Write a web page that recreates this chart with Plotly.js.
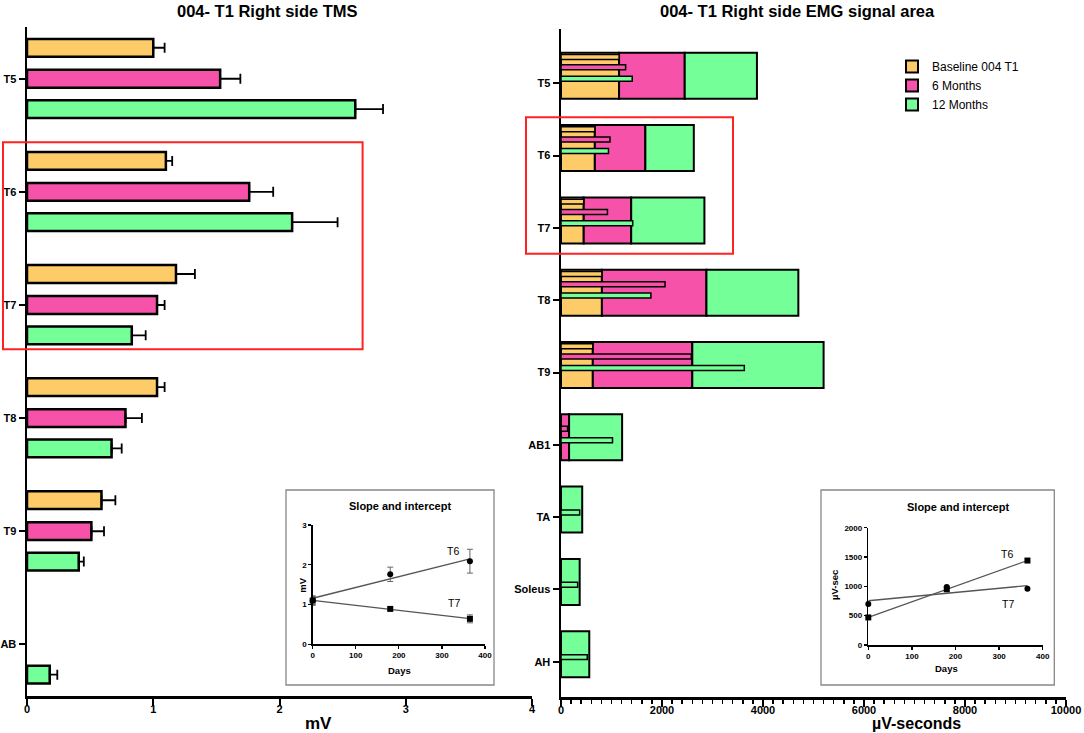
<!DOCTYPE html>
<html>
<head>
<meta charset="utf-8">
<script src="https://cdn.plot.ly/plotly-3.0.1.min.js"></script>
<style>
  html, body { margin: 0; padding: 0; background: #fff; }
  #chart { width: 1084px; height: 733px; }
</style>
</head>
<body>
<div id="chart"></div>
<script>
// ---- left panel: TMS amplitude (mV) ----
var tmsLevels = ['T5', 'T6', 'T7', 'T8', 'T9', 'AB'];
var tmsBaseline = [1.00, 1.10, 1.18, 1.03, 0.59, null];
var tms6m = [1.53, 1.76, 1.03, 0.78, 0.51, null];
var tms12m = [2.60, 2.10, 0.83, 0.67, 0.41, 0.18];
var tmsBaselineErr = [0.09, 0.05, 0.15, 0.06, 0.11, null];
var tms6mErr = [0.16, 0.19, 0.06, 0.13, 0.10, null];
var tms12mErr = [0.22, 0.36, 0.11, 0.08, 0.04, 0.06];

// ---- right panel: EMG signal area (µV-seconds), stacked ----
var emgLevels = ['T5', 'T6', 'T7', 'T8', 'T9', 'AB1', 'TA', 'Soleus', 'AH'];
var emgBaseline = [1150, 670, 450, 810, 630, 0, 0, 0, 0];
var emg6m = [1300, 1000, 940, 2070, 1970, 160, 0, 0, 0];
var emg12m = [1430, 960, 1450, 1820, 2600, 1050, 420, 370, 560];
// thin unstacked bars drawn over the stacks
var emg6mThin = [1280, 970, 920, 2060, 2580, 130, 0, 0, 0];
var emg12mThin = [1410, 940, 1420, 1780, 3630, 1020, 370, 330, 520];

// ---- insets: slope and intercept ----
var days = [0, 180, 365];
var tmsT6 = [1.10, 1.76, 2.09];
var tmsT6Err = [0.10, 0.18, 0.30];
var tmsT7 = [1.10, 0.89, 0.64];
var tmsT7Err = [0.12, 0.03, 0.10];
var emgT6 = [470, 950, 1440];
var emgT7 = [700, 990, 960];

var colBase = '#FDCB67', col6 = '#F652A9', col12 = '#74FF99';
var W = 1084, H = 733;
function px(x) { return x / W; }
function py(y) { return 1 - y / H; }

function fit(xs, ys) {
  var n = xs.length, mx = 0, my = 0, sxy = 0, sxx = 0;
  for (var i = 0; i < n; i++) { mx += xs[i] / n; my += ys[i] / n; }
  for (var i = 0; i < n; i++) {
    sxy += (xs[i] - mx) * (ys[i] - my);
    sxx += (xs[i] - mx) * (xs[i] - mx);
  }
  var m = sxy / sxx;
  return function (x) { return my + m * (x - mx); };
}

function tmsTrace(name, vals, errs, color, offset) {
  return {
    type: 'bar', orientation: 'h', name: name, showlegend: false,
    x: vals, y: tmsLevels, xaxis: 'x', yaxis: 'y',
    width: 0.157, offset: offset,
    marker: { color: color, line: { color: '#000', width: 2.5 } },
    error_x: { type: 'data', symmetric: false, array: errs,
      arrayminus: errs.map(function () { return 0; }),
      color: '#000', thickness: 1.8, width: 5 }
  };
}

function emgTrace(name, vals, base, color, legend) {
  return {
    type: 'bar', orientation: 'h', name: name, showlegend: legend, legendgroup: name,
    x: vals, y: emgLevels, base: base, xaxis: 'x2', yaxis: 'y2',
    width: 0.636, offset: -0.422,
    marker: { color: color, line: { color: '#000', width: 2 } }
  };
}

function thinTrace(vals, color, offset) {
  return {
    type: 'bar', orientation: 'h', showlegend: false,
    x: vals, y: emgLevels, base: 0, xaxis: 'x2', yaxis: 'y2',
    width: 0.069, offset: offset,
    marker: { color: color, line: { color: '#000', width: 1.5 } }
  };
}

var base12 = emgBaseline.map(function (v, i) { return v + emg6m[i]; });

var fT6 = fit(days, tmsT6), fT7 = fit(days, tmsT7);
var gT6 = fit(days, emgT6), gT7 = fit(days, emgT7);
var lineX = [days[0], days[days.length - 1]];

function fitLine(f, xa, ya) {
  return { type: 'scatter', mode: 'lines', showlegend: false, x: lineX,
    y: lineX.map(f), xaxis: xa, yaxis: ya, line: { color: '#555', width: 1.3 } };
}
function pts(ys, errs, symbol, xa, ya) {
  var t = { type: 'scatter', mode: 'markers', showlegend: false, x: days, y: ys,
    xaxis: xa, yaxis: ya, cliponaxis: false,
    marker: { color: '#000', size: 6, symbol: symbol } };
  if (errs) t.error_y = { type: 'data', array: errs, color: '#666', thickness: 1, width: 3 };
  return t;
}

var data = [
  tmsTrace('Baseline 004 T1', tmsBaseline, tmsBaselineErr, colBase, -0.352),
  tmsTrace('6 Months', tms6m, tms6mErr, col6, -0.078),
  tmsTrace('12 Months', tms12m, tms12mErr, col12, 0.19),
  emgTrace('Baseline 004 T1', emgBaseline, 0, colBase, true),
  emgTrace('6 Months', emg6m, emgBaseline, col6, true),
  emgTrace('12 Months', emg12m, base12, col12, true),
  thinTrace(emgBaseline, colBase, -0.398),
  thinTrace(emg6mThin, col6, -0.256),
  thinTrace(emg12mThin, col12, -0.098),
  fitLine(fT6, 'x3', 'y3'), fitLine(fT7, 'x3', 'y3'),
  pts(tmsT6, tmsT6Err, 'circle', 'x3', 'y3'),
  pts(tmsT7, tmsT7Err, 'square', 'x3', 'y3'),
  fitLine(gT6, 'x4', 'y4'), fitLine(gT7, 'x4', 'y4'),
  pts(emgT6, null, 'square', 'x4', 'y4'),
  pts(emgT7, null, 'circle', 'x4', 'y4')
];

var mainAxis = {
  showline: true, linewidth: 2.5, linecolor: '#000', mirror: false,
  ticks: 'outside', ticklen: 7, tickwidth: 2, tickcolor: '#000',
  showgrid: false, zeroline: false, fixedrange: true,
  tickfont: { size: 11, weight: 700, color: '#000' }
};
var catAxis = Object.assign({}, mainAxis, { ticklen: 6, type: 'category', categoryorder: 'array' });
var insetAxis = {
  showline: true, linewidth: 1.5, linecolor: '#000',
  ticks: 'outside', ticklen: 3, tickwidth: 1.2, tickcolor: '#000',
  showgrid: false, zeroline: false, fixedrange: true,
  tickfont: { size: 8, weight: 700, color: '#000' }
};

function ann(text, x, y, size, bold, extra) {
  var a = { text: text, xref: 'paper', yref: 'paper', x: px(x), y: py(y),
    xanchor: 'center', yanchor: 'middle', showarrow: false,
    font: { size: size, weight: bold ? 700 : 400, color: '#000' } };
  return Object.assign(a, extra || {});
}
function box(x0, y0, x1, y1, color, w) {
  return { type: 'rect', xref: 'paper', yref: 'paper',
    x0: px(x0), x1: px(x1), y0: py(y1), y1: py(y0),
    line: { color: color, width: w }, fillcolor: 'rgba(0,0,0,0)' };
}

var layout = {
  width: W, height: H,
  margin: { l: 0, r: 0, t: 0, b: 0 },
  paper_bgcolor: '#fff', plot_bgcolor: 'rgba(0,0,0,0)',
  font: { family: 'Liberation Sans, Arial, sans-serif', color: '#000' },
  barmode: 'overlay',
  legend: { x: px(892), y: py(52), xanchor: 'left', yanchor: 'top',
    traceorder: 'normal', tracegroupgap: 2, bgcolor: 'rgba(0,0,0,0)',
    font: { size: 12, color: '#000' } },
  xaxis: Object.assign({}, mainAxis, { domain: [px(27), px(532)], range: [0, 4], dtick: 1, anchor: 'y',
    ticklabelstandoff: -6 }),
  yaxis: Object.assign({}, catAxis, { domain: [py(696), py(27)], categoryarray: tmsLevels,
    range: [5.457, -0.457], anchor: 'x' }),
  xaxis2: Object.assign({}, mainAxis, { domain: [px(561), px(1066)], range: [0, 10000], dtick: 2000,
    tickformat: 'd', anchor: 'y2', ticklabelstandoff: -6,
    minor: { dtick: 200, ticks: 'outside', ticklen: 4, tickwidth: 1.5, tickcolor: '#000' } }),
  yaxis2: Object.assign({}, catAxis, { domain: [py(697), py(29)], categoryarray: emgLevels,
    range: [8.488, -0.751], anchor: 'x2' }),
  xaxis3: Object.assign({}, insetAxis, { domain: [px(312.7), px(485)], range: [0, 400], dtick: 100, anchor: 'y3' }),
  yaxis3: Object.assign({}, insetAxis, { domain: [py(644.3), py(525)], range: [0, 3], dtick: 1, anchor: 'x3' }),
  xaxis4: Object.assign({}, insetAxis, { domain: [px(868.3), px(1042.7)], range: [0, 400], dtick: 100, anchor: 'y4' }),
  yaxis4: Object.assign({}, insetAxis, { domain: [py(645), py(527.7)], range: [0, 2000], dtick: 500, anchor: 'x4' }),
  shapes: [
    box(3, 142.3, 362.6, 349.3, '#FF2222', 2),
    box(526, 117.3, 733, 253.7, '#FF2222', 2),
    box(286, 490, 494, 685, '#888', 1.3),
    box(821, 490, 1054.3, 685, '#888', 1.3)
  ],
  annotations: [
    ann('004- T1 Right side TMS', 267, 11, 16.5, true),
    ann('004- T1 Right side EMG signal area', 797, 11, 16.5, true),
    ann('mV', 318, 723, 17, true),
    ann('µV-seconds', 916, 723, 16, true),
    ann('Slope and intercept', 399.7, 505.7, 11, true),
    ann('Slope and intercept', 957.5, 506.7, 11, true),
    ann('Days', 399.5, 670, 9.5, true),
    ann('Days', 946, 668, 9.5, true),
    ann('mV', 301.7, 585, 9.5, true, { textangle: -90 }),
    ann('µV-sec', 834, 585, 9.5, true, { textangle: -90 }),
    ann('T6', 452.7, 550.7, 10.5, false),
    ann('T7', 454, 603, 10.5, false),
    ann('T6', 1007, 554, 10.5, false),
    ann('T7', 1008, 604, 10.5, false)
  ]
};

Plotly.newPlot('chart', data, layout, { staticPlot: true, displayModeBar: false });
</script>
</body>
</html>
